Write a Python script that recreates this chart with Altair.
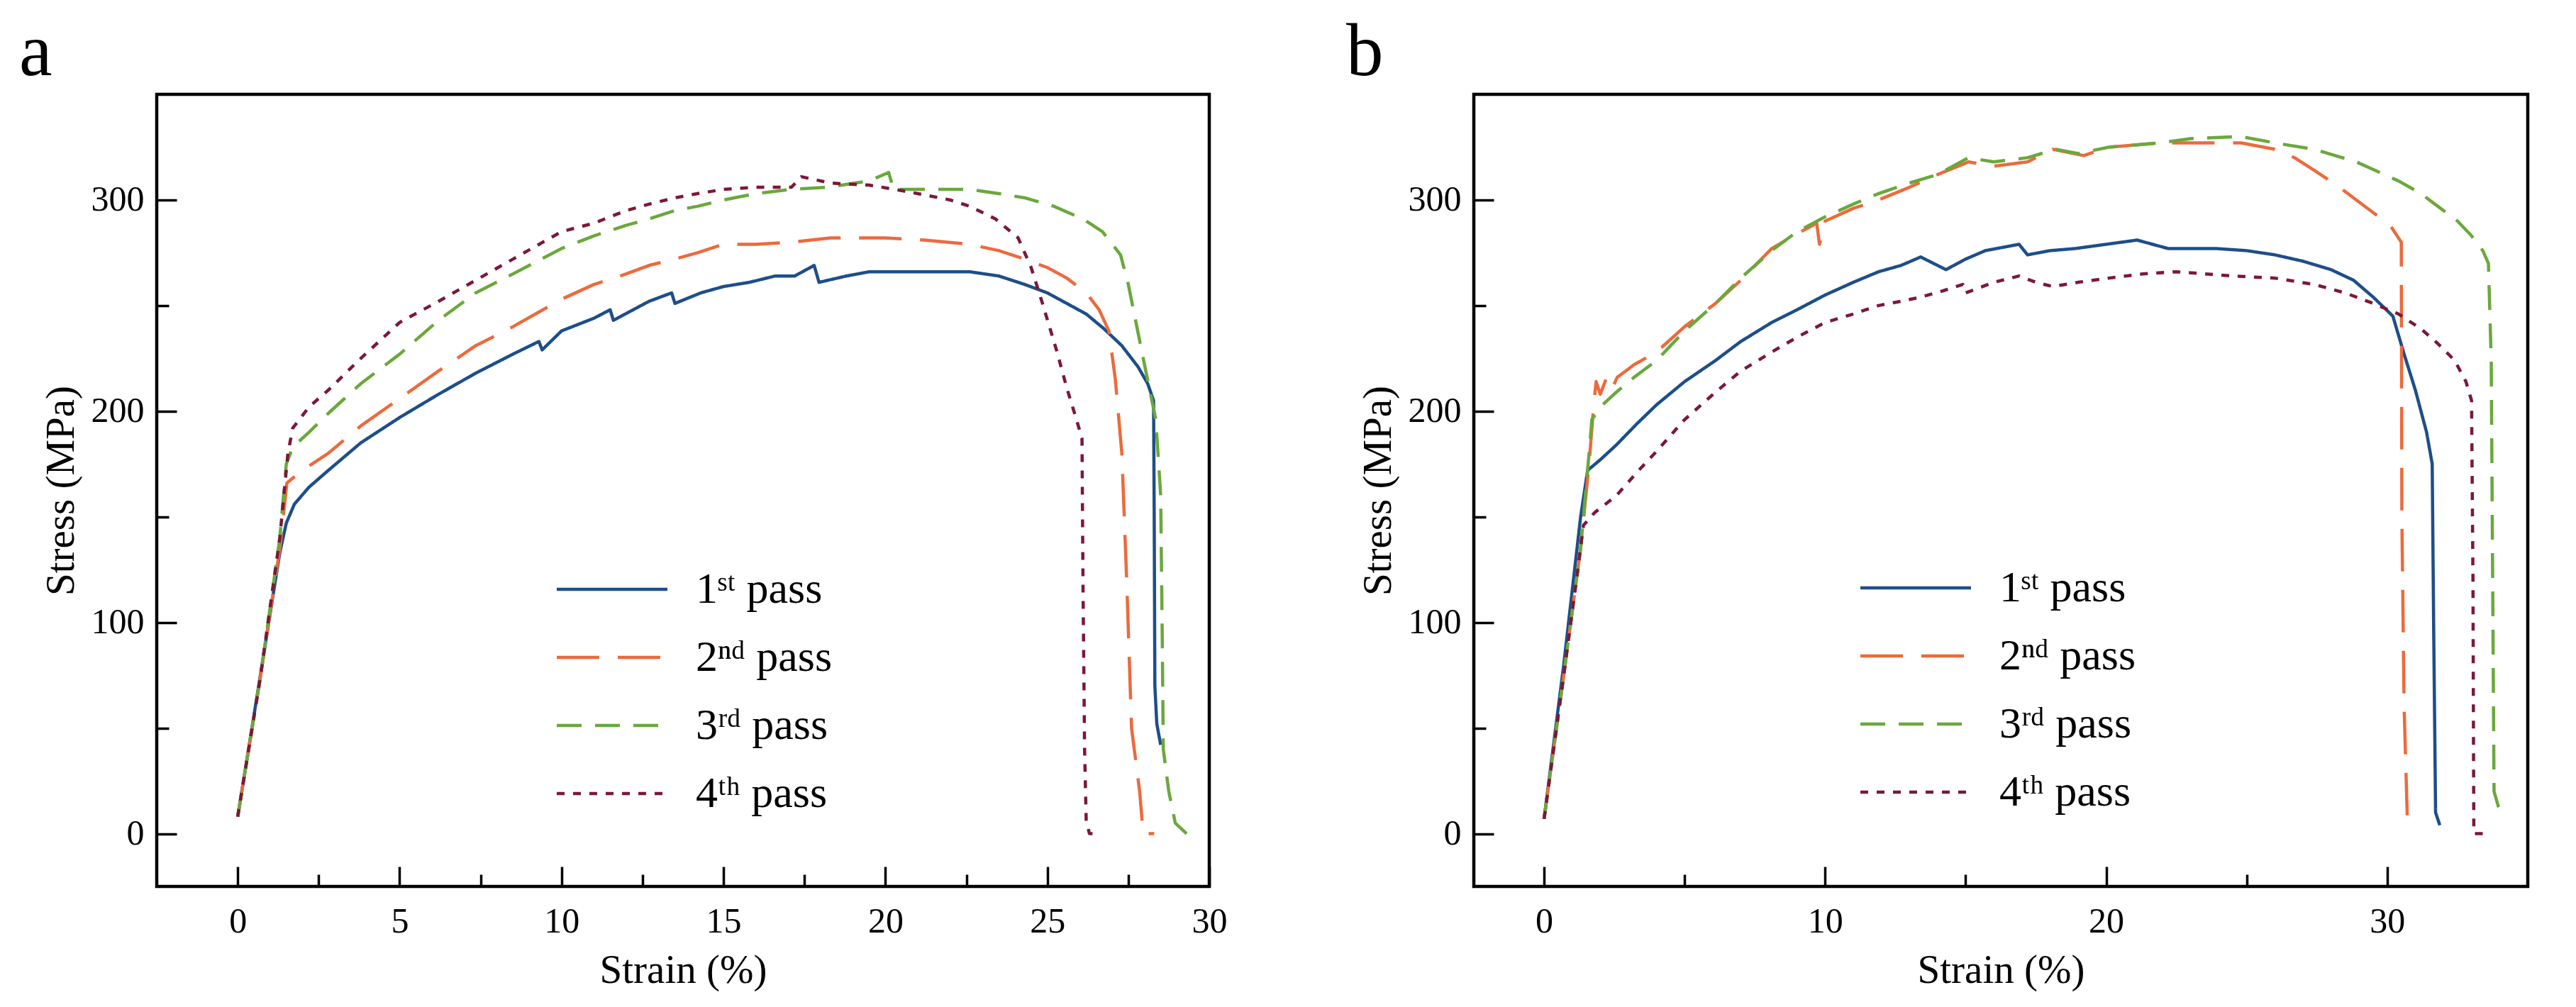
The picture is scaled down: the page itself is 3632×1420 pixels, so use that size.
import altair as alt
import pandas as pd

SERIF = 'Liberation Serif'

passes = ['1ˢᵗ pass', '2ⁿᵈ pass', '3ʳᵈ pass', '4ᵗʰ pass']
colors = ['#1d4e89', '#ec6a3c', '#6aa83c', '#7b1838']
dashes = [[1, 0], [60, 26], [35, 19], [11, 12]]

y_major = [0, 100, 200, 300]
y_minor = [50, 150, 250]

# ---- panel a ----
a_x_major = [0, 5, 10, 15, 20, 25, 30]
a_x_minor = [2.5, 7.5, 12.5, 17.5, 22.5, 27.5]

a_strain_1 = [0, 0.7, 1.3, 1.5, 1.75, 2.2, 2.8, 3.8, 5.0, 6.2, 7.35, 8.5, 9.3, 9.4,
              10.0, 11.0, 11.5, 11.6, 12.7, 13.4, 13.5, 14.3, 15.0, 15.8, 16.6, 17.2,
              17.8, 17.95, 18.8, 19.5, 20.5, 21.6, 22.6, 23.5, 24.3, 25.0, 25.6, 26.2,
              26.75, 27.3, 27.8, 28.1, 28.28, 28.3, 28.32, 28.38, 28.5]
a_stress_1 = [8, 75, 133, 147, 156, 164, 172, 185, 197, 208, 218, 227, 233, 229,
              238, 244, 248, 243, 252, 256, 251, 256, 259, 261, 264, 264,
              269, 261, 264, 266, 266, 266, 266, 264, 260, 256, 251, 246,
              239, 231, 221, 213, 205, 150, 70, 52, 42]

a_strain_2 = [0, 0.7, 1.3, 1.52, 2.0, 2.79, 3.8, 5.0, 6.2, 7.35, 8.5, 10.0, 11.0, 12.0,
              12.7, 13.5, 14.2, 15.0, 16.0, 17.1, 18.3, 20.0, 21.2, 22.6, 23.5, 24.3,
              25.0, 25.6, 26.2, 26.6, 26.9, 27.1, 27.3, 27.45, 27.6, 27.85, 27.96, 28.3]
a_stress_2 = [8, 74, 135, 166, 172, 180, 193, 206, 219, 231, 240, 253, 260, 265,
              269, 272, 275, 279, 279, 280, 282, 282, 281, 279, 276, 272,
              268, 263, 256, 248, 238, 215, 180, 120, 50, 20, 0, 0]

a_strain_3 = [0, 0.7, 1.3, 1.5, 1.7, 2.2, 2.8, 3.8, 5.0, 6.2, 7.35, 8.5, 10.0, 11.0,
              12.0, 12.7, 13.5, 14.2, 15.0, 16.0, 17.1, 18.2, 19.5, 20.1, 20.25, 21.2,
              22.6, 23.5, 24.3, 25.2, 26.1, 26.7, 27.26, 27.5, 28.0, 28.35, 28.5, 28.55,
              28.58, 28.75, 28.95, 29.3]
a_stress_3 = [8, 74, 140, 175, 183, 190, 199, 213, 227, 243, 256, 265, 277, 283,
              288, 291, 295, 297, 300, 303, 305, 306, 309, 313, 305, 305,
              305, 303, 301, 297, 291, 285, 274, 260, 222, 196, 160, 90,
              40, 20, 5, 0]

a_strain_4 = [0, 0.7, 1.3, 1.55, 1.7, 2.2, 2.8, 3.8, 5.0, 6.2, 7.35, 8.5, 10.0, 11.0,
              12.0, 12.7, 13.5, 14.2, 15.0, 16.0, 17.1, 17.4, 18.3, 19.5, 20.3, 21.0,
              22.0, 22.6, 23.4, 24.1, 24.5, 24.85, 25.3, 25.6, 25.9, 26.07, 26.1, 26.15,
              26.2, 26.3, 26.5]
a_stress_4 = [8, 74, 140, 180, 192, 202, 210, 225, 242, 252, 262, 272, 285, 289,
              295, 298, 301, 303, 305, 306, 306, 311, 308, 307, 305, 303,
              300, 297, 291, 282, 268, 251, 228, 211, 196, 187, 120, 40,
              6, 0, 0]

# ---- panel b ----
b_x_major = [0, 10, 20, 30]
b_x_minor = [5, 15, 25]

b_strain_1 = [0, 0.7, 1.3, 1.55, 2.0, 2.57, 3.3, 4.0, 5.0, 6.1, 7.0, 8.1, 9.0, 10.0,
              11.0, 11.9, 12.7, 13.4, 14.0, 14.3, 15.0, 15.7, 16.9, 17.2, 18.0, 18.9,
              20.0, 21.1, 22.2, 23.0, 23.9, 25.0, 26.0, 27.0, 28.0, 28.8, 29.5, 30.2,
              30.6, 31.0, 31.4, 31.6, 31.65, 31.72, 31.87]
b_stress_1 = [7, 80, 150, 172, 177, 184, 194, 203, 214, 224, 233, 242, 248, 255,
              261, 266, 269, 273, 269, 267, 272, 276, 279, 274, 276, 277,
              279, 281, 277, 277, 277, 276, 274, 271, 267, 262, 254, 245,
              227, 210, 190, 175, 100, 10, 4]

b_strain_2 = [0, 0.7, 1.3, 1.6, 1.75, 1.85, 2.0, 2.2, 2.4, 2.6, 3.2, 4.0, 5.0, 6.1,
              7.0, 8.1, 9.0, 9.7, 9.8, 10.0, 11.0, 11.9, 13.0, 14.0, 15.1, 16.0,
              17.2, 18.1, 19.2, 20.1, 21.0, 21.9, 23.0, 24.8, 26.0, 26.7, 27.4, 28.2,
              28.9, 29.6, 30.1, 30.5, 30.52, 30.6, 30.73]
b_stress_2 = [7, 75, 135, 175, 200, 214, 208, 215, 210, 216, 222, 228, 240, 251,
              262, 277, 284, 289, 279, 290, 296, 300, 306, 312, 318, 316,
              318, 324, 321, 325, 326, 327, 327, 327, 324, 320, 314, 307,
              300, 293, 288, 280, 150, 60, 0]

b_strain_3 = [0, 0.7, 1.3, 1.6, 1.7, 2.0, 2.57, 3.2, 4.0, 5.0, 6.1, 7.0, 8.1, 9.0,
              10.0, 11.0, 11.9, 13.0, 14.0, 15.1, 16.0, 17.2, 18.2, 19.0, 20.1, 21.0,
              21.9, 23.0, 24.8, 26.0, 27.4, 28.9, 30.4, 31.2, 31.8, 32.5, 33.0, 33.4,
              33.6, 33.7, 33.8, 33.95, 34.07]
b_stress_3 = [7, 75, 135, 180, 196, 202, 209, 216, 224, 238, 251, 263, 276, 285,
              292, 298, 303, 308, 312, 320, 318, 320, 324, 322, 325, 326,
              327, 329, 330, 327, 324, 318, 309, 303, 297, 290, 283, 276,
              270, 224, 20, 13, 10]

b_strain_4 = [0, 0.7, 1.2, 1.4, 1.8, 2.57, 3.3, 4.0, 5.0, 6.1, 7.0, 8.1, 9.0, 10.0,
              11.0, 11.9, 12.7, 13.4, 14.2, 14.9, 15.0, 16.0, 16.9, 17.5, 18.1, 19.0,
              20.1, 21.3, 22.5, 23.5, 24.5, 26.0, 27.4, 28.5, 29.5, 30.4, 31.2, 31.8,
              32.4, 32.8, 33.0, 33.05, 33.08, 33.7]
b_stress_4 = [7, 75, 125, 146, 152, 160, 171, 181, 196, 209, 219, 228, 235, 242,
              246, 250, 252, 254, 257, 260, 256, 261, 264, 261, 259, 261,
              263, 265, 266, 265, 264, 263, 260, 256, 251, 246, 239, 232,
              224, 214, 205, 120, 0, 0]

H = 1117


def curves_frame(curves):
    rows = []
    for name, (xs, ys) in zip(passes, curves):
        for i, (x, y) in enumerate(zip(xs, ys)):
            rows.append({'pass': name, 'strain': x, 'stress': y, 'step': i})
    return pd.DataFrame(rows)


def panel(df, label, width, x_max, x_major, x_minor, legend_x, legend_y, label_dx):
    xs = alt.Scale(domain=[-2.5, x_max], nice=False, zero=False)
    ys = alt.Scale(domain=[-25, 350], nice=False, zero=False)
    legend = alt.Legend(
        title=None, orient='none', legendX=legend_x, legendY=legend_y,
        symbolType='M-6,0H6', symbolSize=676, symbolStrokeWidth=4.5,
        labelFont=SERIF, labelFontSize=62, labelColor='black', labelLimit=0,
        labelOffset=87, rowPadding=34, padding=0,
    )
    base = alt.Chart(df)
    lines = base.mark_line(strokeWidth=4.5, strokeJoin='round').encode(
        x=alt.X('strain:Q', scale=xs, title='Strain (%)',
                axis=alt.Axis(values=x_major, ticks=False, domain=False, grid=False,
                              labelPadding=24, titlePadding=16, labelFlush=False)),
        y=alt.Y('stress:Q', scale=ys, title='Stress (MPa)',
                axis=alt.Axis(values=y_major, ticks=False, domain=False, grid=False,
                              labelPadding=18, titlePadding=13, labelFlush=False)),
        color=alt.Color('pass:N', scale=alt.Scale(domain=passes, range=colors), legend=legend),
        strokeDash=alt.StrokeDash('pass:N', scale=alt.Scale(domain=passes, range=dashes),
                                  legend=legend),
        order='step:Q',
    )

    # inward ticks: axes flipped to the opposite side and moved back over the frame
    def ticks(xv, yv, size):
        return base.mark_line(opacity=0).encode(
            x=alt.X('strain:Q', scale=xs, title=None,
                    axis=alt.Axis(orient='top', offset=-H, values=xv, labels=False,
                                  domain=False, grid=False, tickSize=size, tickWidth=3.5,
                                  tickColor='black')),
            y=alt.Y('stress:Q', scale=ys, title=None,
                    axis=alt.Axis(orient='right', offset=-width, values=yv, labels=False,
                                  domain=False, grid=False, tickSize=size, tickWidth=3.5,
                                  tickColor='black')),
            detail='pass:N',
        )

    return alt.layer(
        lines, ticks(x_major, y_major, 28), ticks(x_minor, y_minor, 17)
    ).resolve_axis(x='independent', y='independent').properties(
        width=width, height=H,
        title=alt.TitleParams(label, anchor='start', frame='group', fontSize=105,
                              font=SERIF, fontWeight='normal', color='black',
                              baseline='alphabetic', offset=-78, dx=label_dx),
    )


df_a = curves_frame([(a_strain_1, a_stress_1), (a_strain_2, a_stress_2),
                     (a_strain_3, a_stress_3), (a_strain_4, a_stress_4)])
df_b = curves_frame([(b_strain_1, b_stress_1), (b_strain_2, b_stress_2),
                     (b_strain_3, b_stress_3), (b_strain_4, b_stress_4)])

chart_a = panel(df_a, 'a', 1484, 30, a_x_major, a_x_minor, 611, 667, -194)
chart_b = panel(df_b, 'b', 1486, 35, b_x_major, b_x_minor, 592, 665, -180)

chart = alt.hconcat(chart_a, chart_b, spacing=373, bounds='flush').resolve_legend(
    color='independent', strokeDash='independent'
).properties(
    padding={'left': 16, 'top': 11, 'right': 5, 'bottom': 5}
).configure_view(
    stroke='black', strokeWidth=4.5
).configure_axis(
    labelFont=SERIF, labelFontSize=50, labelColor='black',
    titleFont=SERIF, titleFontSize=57, titleFontWeight='normal', titleColor='black',
)

chart.save('out.html', embed_options={'renderer': 'svg', 'actions': False})
